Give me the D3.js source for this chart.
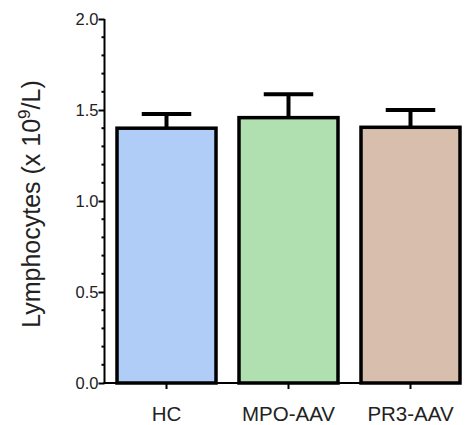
<!DOCTYPE html>
<html><head><meta charset="utf-8">
<script src="https://cdn.jsdelivr.net/npm/d3@7"></script>
<style>body{margin:0;background:#fff}svg{display:block}</style>
</head><body>
<script>
const categories = ["HC", "MPO-AAV", "PR3-AAV"];
const means = [1.40, 1.458, 1.405];
const errUpper = [1.478, 1.586, 1.50];
const colors = ["#b0cdf8", "#b0dfb0", "#d8bfad"];
const yTicks = [0.0, 0.5, 1.0, 1.5, 2.0];

const W = 469, H = 425;
const svg = d3.select("body").append("svg").attr("width", W).attr("height", H);
const font = "'Liberation Sans', Arial, sans-serif";

const y = d3.scaleLinear().domain([0, 2]).range([383, 19]);
const x = d3.scaleBand().domain(categories).range([105.5, 471.5]).paddingInner(0.1885).paddingOuter(0.0943);

// bars
svg.selectAll("rect.bar").data(categories).join("rect")
  .attr("x", d => x(d)).attr("width", x.bandwidth())
  .attr("y", (d, i) => y(means[i])).attr("height", (d, i) => y(0) - y(means[i]))
  .attr("fill", (d, i) => colors[i]).attr("stroke", "#000").attr("stroke-width", 3.5);

// error bars
const eg = svg.append("g").attr("stroke", "#000").attr("stroke-width", 4);
categories.forEach((c, i) => {
  const cx = x(c) + x.bandwidth() / 2;
  eg.append("line").attr("x1", cx).attr("x2", cx).attr("y1", y(means[i])).attr("y2", y(errUpper[i]));
  eg.append("line").attr("x1", cx - x.bandwidth() / 4).attr("x2", cx + x.bandwidth() / 4)
    .attr("y1", y(errUpper[i])).attr("y2", y(errUpper[i]));
});

// y axis
const yAxis = d3.axisLeft(y).tickValues(yTicks).tickFormat(d3.format(".1f")).tickSize(6).tickSizeOuter(0);
const ya = svg.append("g").attr("transform", "translate(104.5,0)").call(yAxis);
ya.select(".domain").attr("stroke-width", 2).attr("d", `M0,${y(2)}V${y(0)}`);
ya.selectAll(".tick line").attr("stroke-width", 2);
ya.selectAll(".tick text").attr("font-family", font).attr("font-size", 16.5).attr("fill", "#222").attr("x", -6);
// minor ticks
const minor = d3.range(0, 2.0001, 0.1).filter(v => Math.abs(v * 2 - Math.round(v * 2)) > 1e-6);
ya.selectAll("line.minor").data(minor).join("line").attr("class", "minor")
  .attr("x1", -3).attr("x2", 0).attr("y1", d => y(d)).attr("y2", d => y(d))
  .attr("stroke", "#000").attr("stroke-width", 2);

// x axis
const xAxis = d3.axisBottom(x).tickSize(6).tickSizeOuter(0);
const xa = svg.append("g").attr("transform", `translate(0,${y(0)})`).call(xAxis);
xa.select(".domain").attr("stroke-width", 2).attr("d", `M103.5,0H461`);
xa.selectAll(".tick line").attr("stroke-width", 2);
xa.selectAll(".tick text").attr("font-family", font).attr("font-size", 20.5).attr("fill", "#222")
  .attr("dy", null).attr("y", 38);

// y label
const lab = svg.append("text").attr("transform", "translate(40,204) rotate(-90)")
  .attr("text-anchor", "middle").attr("font-family", font).attr("font-size", 25).attr("fill", "#222");
lab.append("tspan").text("Lymphocytes (x 10");
lab.append("tspan").text("9").attr("font-size", 17).attr("dy", -10);
lab.append("tspan").text("/L)").attr("dy", 10);
</script>
</body></html>
